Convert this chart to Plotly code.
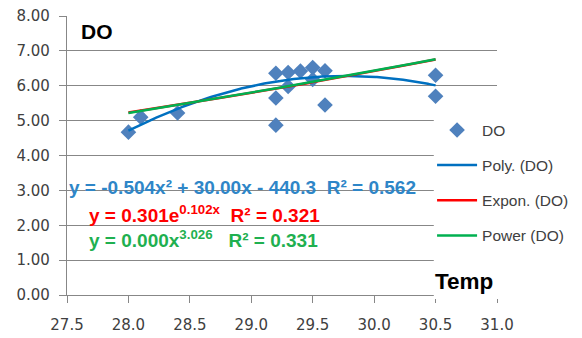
import numpy as np
import plotly.graph_objects as go

# ---- data ----
temp = [28.0, 28.1, 28.4, 29.2, 29.2, 29.2, 29.3, 29.3, 29.4, 29.5, 29.5, 29.6, 29.6, 30.5, 30.5]
do_vals = [4.67, 5.10, 5.22, 6.36, 5.65, 4.87, 6.38, 5.98, 6.42, 6.52, 6.18, 6.43, 5.45, 6.30, 5.70]

# trendline coefficients as shown in the chart's equations (estimated beyond the shown rounding)
poly_coef = [-0.5040, 30.0045, -440.28]      # y = a x^2 + b x + c
exp_coef = [0.301, 0.102]                     # y = a e^(b x)
pow_coef = [0.000218, 3.026]                  # y = a x^b  (a shown as 0.000)

series_name = "DO"
axis_title_x = "Temp"
legend_names = ["DO", "Poly. (DO)", "Expon. (DO)", "Power (DO)"]
eq_poly = "y = -0.504x² + 30.00x - 440.3\u00a0\u00a0R² = 0.562"
eq_exp = "y = 0.301e<sup>0.102x</sup>\u00a0\u00a0R² = 0.321"
eq_pow = "y = 0.000x<sup>3.026</sup>\u00a0\u00a0\u00a0R² = 0.331"

x_ticks = [27.5, 28.0, 28.5, 29.0, 29.5, 30.0, 30.5, 31.0]
y_ticks = [0, 1, 2, 3, 4, 5, 6, 7, 8]

# ---- trendlines over the data range ----
xa = np.array(temp)
xs = np.linspace(xa.min(), xa.max(), 200)
y_poly = np.polyval(poly_coef, xs)
y_exp = exp_coef[0] * np.exp(exp_coef[1] * xs)
y_pow = pow_coef[0] * xs ** pow_coef[1]

GRID = "#878787"
TXT = "#404040"

fig = go.Figure()
fig.add_trace(go.Scatter(x=temp, y=do_vals, mode="markers", name=legend_names[0],
                         legendgroup="a",
                         marker=dict(symbol="diamond", size=12, color="#4F81BD")))
fig.add_trace(go.Scatter(x=xs, y=y_poly, mode="lines", name=legend_names[1], legendgroup="b",
                         line=dict(color="#0070C0", width=2.5)))
fig.add_trace(go.Scatter(x=xs, y=y_exp, mode="lines", name=legend_names[2], legendgroup="c",
                         line=dict(color="#FF0000", width=2.5)))
fig.add_trace(go.Scatter(x=xs, y=y_pow, mode="lines", name=legend_names[3], legendgroup="d",
                         line=dict(color="#00B050", width=2.5)))

# white box behind the legend (covers the right part of the plot area as in the reference)
fig.add_shape(type="rect", xref="paper", yref="paper", x0=0.853, x1=1.2, y0=-0.014, y1=0.68,
              fillcolor="white", line=dict(width=0), layer="above")

ann_font = "Liberation Sans, Arial, sans-serif"
fig.add_annotation(x=0.0, y=0.384, xref="paper", yref="paper", xanchor="left", yanchor="middle",
                   text="<b>" + eq_poly + "</b>", showarrow=False,
                   font=dict(family=ann_font, size=19, color="#2E86C8"))
fig.add_annotation(x=0.0465, y=0.29, xref="paper", yref="paper", xanchor="left", yanchor="middle",
                   text="<b>" + eq_exp + "</b>", showarrow=False,
                   font=dict(family=ann_font, size=19, color="#FF0000"))
fig.add_annotation(x=0.0465, y=0.199, xref="paper", yref="paper", xanchor="left", yanchor="middle",
                   text="<b>" + eq_pow + "</b>", showarrow=False,
                   font=dict(family=ann_font, size=19, color="#1FB050"))
fig.add_annotation(x=0.028, y=0.945, xref="paper", yref="paper", xanchor="left", yanchor="middle",
                   text="<b>" + series_name + "</b>", showarrow=False,
                   font=dict(family=ann_font, size=21, color="black"))
fig.add_annotation(x=0.851, y=0.05, xref="paper", yref="paper", xanchor="left", yanchor="middle",
                   text="<b>" + axis_title_x + "</b>", showarrow=False,
                   font=dict(family=ann_font, size=22.5, color="black"))

fig.update_layout(
    width=582, height=338,
    margin=dict(l=67, r=85, t=16, b=43, autoexpand=False),
    paper_bgcolor="white", plot_bgcolor="white",
    legend=dict(x=0.849, y=0.651, xanchor="left", yanchor="top",
                bgcolor="rgba(0,0,0,0)", tracegroupgap=12,
                font=dict(family=ann_font, size=15.5, color=TXT), itemwidth=40),
    showlegend=True,
)
fig.update_xaxes(range=[27.5, 31.0], tickvals=x_ticks, tickformat=".1f", automargin=False,
                 showgrid=False, zeroline=False, showline=True, linecolor=GRID, linewidth=1.3,
                 ticks="outside", ticklen=7, tickcolor=GRID, tickwidth=1.3,
                 ticklabelstandoff=9,
                 tickfont=dict(family="DejaVu Sans", size=15, color=TXT))
fig.update_yaxes(range=[0, 8], tickvals=y_ticks, tickformat=".2f", automargin=False,
                 showgrid=True, gridcolor=GRID, gridwidth=1.3, zeroline=False,
                 showline=True, linecolor=GRID, linewidth=1.3,
                 ticks="outside", ticklen=7, tickcolor=GRID, tickwidth=1.3,
                 ticklabelstandoff=6,
                 tickfont=dict(family="DejaVu Sans", size=15, color=TXT))

fig.write_html("out.html")
